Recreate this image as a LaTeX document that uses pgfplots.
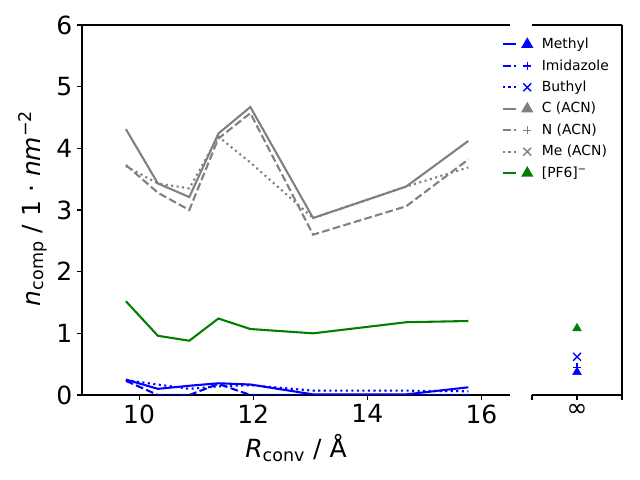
\documentclass[border=0pt]{standalone}
\usepackage{fontspec}
\setmainfont{DejaVu Sans}
\usepackage{amsmath}
\usepackage{pgfplots}
\pgfplotsset{compat=1.18}
\definecolor{mgreen}{rgb}{0,0.5,0}
\definecolor{mgray}{rgb}{0.5,0.5,0.5}
\tikzset{
  sol/.style={solid, line width=1.5pt},
  das/.style={line width=1.5pt, dash pattern=on 5.55pt off 2.4pt},
  dot/.style={line width=1.5pt, dash pattern=on 1.5pt off 2.475pt},
  bb/.style={draw=none, fill=none},
}
\pgfplotstableread{
x      methyl imid  buthyl cacn  nacn  meacn pf6
9.77   0.25   0.23  0.24   4.31  3.73  3.71  1.52
10.33  0.10   0.00  0.17   3.43  3.28  3.43  0.96
10.88  0.15   0.00  0.10   3.21  3.00  3.35  0.88
11.39  0.19   0.18  0.14   4.24  4.16  4.19  1.24
11.95  0.17   0.00  0.16   4.67  4.57  3.77  1.07
13.05  0.01   0.00  0.07   2.87  2.60  2.87  1.00
14.68  0.01   0.00  0.07   3.38  3.06  3.38  1.18
15.77  0.125  0.00  0.06   4.12  3.82  3.69  1.20
}\datatab
\begin{document}
\begin{tikzpicture}
\useasboundingbox (0,0) rectangle (460.8pt,345.6pt);
\pgfplotsset{
  base/.style={scale only axis, anchor=south west, ymin=0, ymax=6,
    /pgf/number format/assume math mode=true,
    tick label style={font=\fontsize{18}{21.6}\selectfont},
    label style={font=\fontsize{18}{21.6}\selectfont},
    tick align=outside, major tick length=3.5pt,
    every tick/.style={black, line width=0.8pt},
    axis line style={line width=0.8pt},
  },
}
\begin{axis}[base, at={(59.04pt,61.2pt)}, width=308.16pt, height=266.4pt,
  xmin=9, xmax=16.5, xtick={10,12,14,16}, ytick={0,1,2,3,4,5,6},
  axis x line*=box, axis y line*=left, xtick pos=left,
  xlabel={\textit{R}$_{\text{conv}}$ / Å},
  ylabel={\textit{n}$_{\text{comp}}$ / 1 ⋅ \textit{nm}$^{\text{−2}}$},
  xlabel style={at={(axis description cs:0.5,-0.1694)}, anchor=base},
  ylabel style={at={(axis description cs:-0.1144,0.505)}, anchor=center},
  legend style={draw=none, fill=none, at={(axis description cs:0.9805,0.973)}, anchor=north west,
    font=\fontsize{10}{12}\selectfont, inner sep=0pt, row sep=2.36pt, column sep=4pt},
  legend cell align=left,
]
\addplot[blue, sol, legend image code/.code={\path[bb] (0pt,-3pt) rectangle (22pt,3pt); \draw[blue, sol] (0pt,0pt)--(9.6pt,0pt); \begin{scope}[shift={(17.5pt,0pt)}, blue, mark size=3.6pt]\pgfuseplotmark{triangle*}\end{scope}}] table[x=x, y=methyl] {\datatab};
\addlegendentry{Methyl}
\addplot[blue, das, legend image code/.code={\path[bb] (0pt,-3pt) rectangle (22pt,3pt); \draw[blue, das] (0pt,0pt)--(9.6pt,0pt); \begin{scope}[shift={(17.5pt,0pt)}, blue, solid, line width=1pt, mark size=3pt]\pgfuseplotmark{+}\end{scope}}] table[x=x, y=imid] {\datatab};
\addlegendentry{Imidazole}
\addplot[blue, dot, legend image code/.code={\path[bb] (0pt,-3pt) rectangle (22pt,3pt); \draw[blue, dot] (0pt,0pt)--(9.6pt,0pt); \begin{scope}[shift={(17.5pt,0pt)}, blue, solid, line width=1pt, mark size=4pt]\pgfuseplotmark{x}\end{scope}}] table[x=x, y=buthyl] {\datatab};
\addlegendentry{Buthyl}
\addplot[mgray, sol, legend image code/.code={\path[bb] (0pt,-3pt) rectangle (22pt,3pt); \draw[mgray, sol] (0pt,0pt)--(9.6pt,0pt); \begin{scope}[shift={(17.5pt,0pt)}, mgray, mark size=3.6pt]\pgfuseplotmark{triangle*}\end{scope}}] table[x=x, y=cacn] {\datatab};
\addlegendentry{C (ACN)}
\addplot[mgray, das, legend image code/.code={\path[bb] (0pt,-3pt) rectangle (22pt,3pt); \draw[mgray, das] (0pt,0pt)--(9.6pt,0pt); \begin{scope}[shift={(17.5pt,0pt)}, mgray, solid, line width=1pt, mark size=3pt]\pgfuseplotmark{+}\end{scope}}] table[x=x, y=nacn] {\datatab};
\addlegendentry{N (ACN)}
\addplot[mgray, dot, legend image code/.code={\path[bb] (0pt,-3pt) rectangle (22pt,3pt); \draw[mgray, dot] (0pt,0pt)--(9.6pt,0pt); \begin{scope}[shift={(17.5pt,0pt)}, mgray, solid, line width=1pt, mark size=4pt]\pgfuseplotmark{x}\end{scope}}] table[x=x, y=meacn] {\datatab};
\addlegendentry{Me (ACN)}
\addplot[mgreen, sol, legend image code/.code={\path[bb] (0pt,-3pt) rectangle (22pt,3pt); \draw[mgreen, sol] (0pt,0pt)--(9.6pt,0pt); \begin{scope}[shift={(17.5pt,0pt)}, mgreen, mark size=3.6pt]\pgfuseplotmark{triangle*}\end{scope}}] table[x=x, y=pf6] {\datatab};
\addlegendentry{[PF6]$^{\text{−}}$}
\end{axis}
\begin{axis}[base, at={(383.04pt,61.2pt)}, width=64.8pt, height=266.4pt,
  xmin=0, xmax=2, xtick={0,1,2}, xticklabels={,∞,}, ytick=\empty,
  axis x line*=box, axis y line*=right, xtick pos=left]
\addplot[only marks, blue, mark=triangle*, mark size=3.6pt] coordinates {(1,0.37)};
\addplot[only marks, blue, mark=+, mark size=3pt, line width=1pt] coordinates {(1,0.45)};
\addplot[only marks, blue, mark=x, mark size=4pt, line width=1pt] coordinates {(1,0.62)};
\addplot[only marks, mgreen, mark=triangle*, mark size=3.6pt] coordinates {(1,1.08)};
\end{axis}
\end{tikzpicture}
\end{document}
